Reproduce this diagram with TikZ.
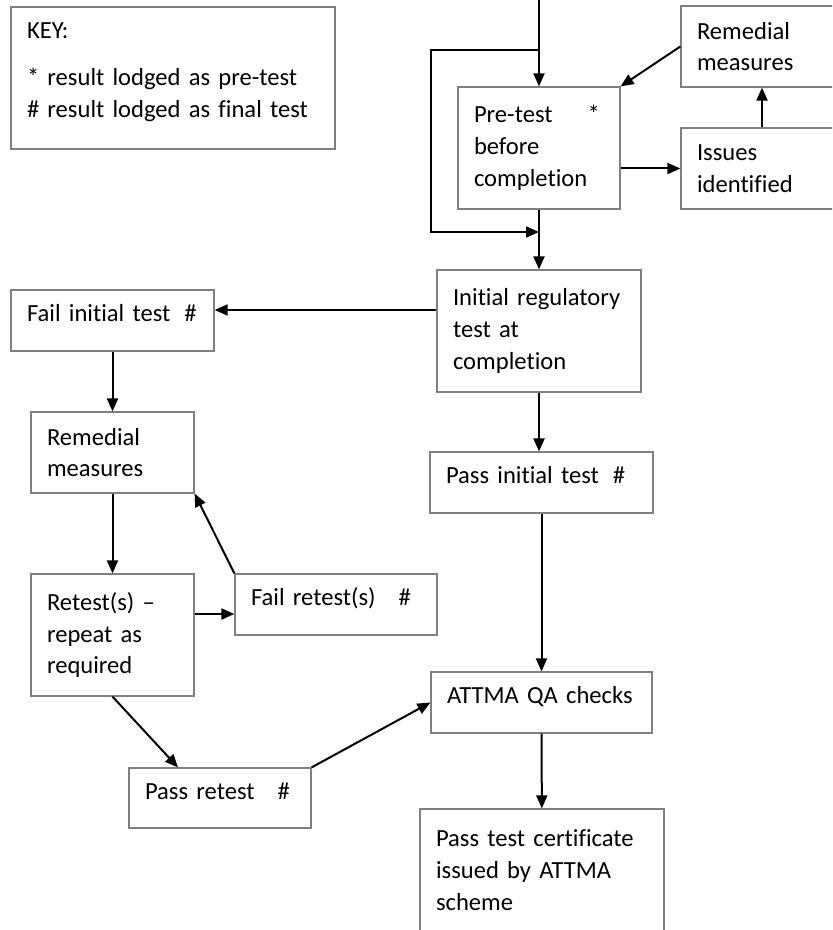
\documentclass[tikz,border=0pt]{standalone}
\usepackage{fontspec}
\setmainfont{Carlito}[Ligatures=NoCommon]
\usetikzlibrary{arrows.meta, positioning}

\begin{document}
\begin{tikzpicture}[
      x = 0.5pt, y = -0.5pt,
      font = \fontsize{12.3}{15.9}\selectfont,
      box/.style = {draw = black!50, line width = 0.6pt, rectangle, align = left,
                    inner xsep = 8pt, inner ysep = 0pt},
      oneline/.style = {text height = 5pt, text depth = 3.6pt},
      link/.style = {draw = black, line width = 1pt,
                     -{Triangle[length = 6.5pt, width = 5.5pt]}}]

      \useasboundingbox (0,0) rectangle (832,930);
      \clip (0,0) rectangle (832,930);

      \node [box, text width = 146pt, minimum height = 71pt, text height = 2pt] (key) at (173,78)
        {KEY:\\[8pt]* result lodged as pre-test\\\# result lodged as final test};

      \node [box, text width = 65pt, minimum height = 61pt] (pre) at (539,148)
        {Pre-test\hspace{17.5pt}*\\before\\completion};
      \node [box, text width = 65pt, minimum height = 40.5pt] (remtop) at (762,46.5)
        {Remedial\\measures};
      \node [box, text width = 65pt, minimum height = 40.5pt] (issues) at (762,168.5)
        {Issues\\identified};
      \node [box, text width = 86pt, minimum height = 61pt] (init) at (539,331)
        {Initial regulatory\\test at\\completion};
      \node [box, oneline, text width = 85.5pt, minimum height = 30.5pt] (failinit) at (112.5,320.5)
        {Fail initial test\hspace{7pt}\#};
      \node [box, text width = 65.5pt, minimum height = 40.5pt] (remleft) at (112.5,452.5)
        {Remedial\\measures};
      \node [box, text width = 65.5pt, minimum height = 61pt] (retest) at (112.5,635)
        {Retest(s) –\\repeat as\\required};
      \node [box, oneline, text width = 85pt, minimum height = 30.5pt] (failre) at (336,604.5)
        {Fail retest(s)\hspace{11.5pt}\#};
      \node [box, oneline, text width = 95.5pt, minimum height = 30.5pt] (passinit) at (541.5,482.5)
        {Pass initial test\hspace{7pt}\#};
      \node [box, oneline, text width = 94.5pt, minimum height = 30.5pt] (attma) at (541.5,702.5)
        {ATTMA QA checks};
      \node [box, text width = 106pt, minimum height = 61pt] (cert) at (542,870)
        {Pass test certificate\\issued by ATTMA\\scheme};
      \node [box, oneline, text width = 75pt, minimum height = 30pt] (passre) at (220,798)
        {Pass retest\hspace{11.5pt}\#};

      \coordinate (feed) at (539,-5);
      \coordinate (split) at (539,50);
      \coordinate (merge) at (539,232);

      \draw [link] (feed) -- (pre);
      \draw [link] (split) -- ++(-108,0) |- (merge);
      \draw [link] (pre) -- (init);
      \draw [link] (remtop.west) -- (pre.north east);
      \draw [link] (issues) -- (remtop);
      \draw [link] (pre.east |- issues.west) -- (issues.west);
      \draw [link] ([yshift=10.5pt]init.west) -- ([yshift=10.5pt]init.west -| failinit.east);
      \draw [link] (failinit) -- (remleft);
      \draw [link] (remleft) -- (retest);
      \draw [link] ([yshift=10.5pt]retest.east) -- ([yshift=10.5pt]retest.east -| failre.west);
      \draw [link] (failre.north west) -- (remleft.south east);
      \draw [link] (retest.south) -- ([xshift=-21pt]passre.north);
      \draw [link] (passre.north east) -- (attma.west);
      \draw [link] (init.south) -- (init.south |- passinit.north);
      \draw [link] (passinit) -- (attma);
      \draw [link] (attma) -- (cert);
\end{tikzpicture}
\end{document}
